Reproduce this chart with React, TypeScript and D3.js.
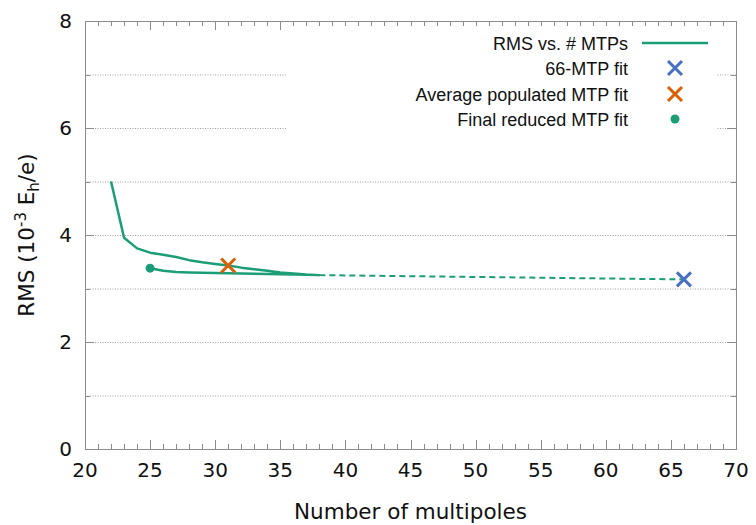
import React, { useRef, useEffect } from "react";
import * as d3 from "d3";

// RMS vs. number of multipoles, solid path in drawing order
const pathX = [22, 23, 24, 25, 26, 27, 28, 29, 30, 31, 32, 33, 34, 35, 36, 37, 38, 36, 34, 32, 30, 28, 27, 26, 25];
const pathY = [5.0, 3.95, 3.75, 3.67, 3.63, 3.59, 3.53, 3.49, 3.46, 3.43, 3.39, 3.36, 3.33, 3.3, 3.28, 3.26, 3.25, 3.26, 3.27, 3.28, 3.29, 3.3, 3.31, 3.33, 3.38];
// dashed gap between 38 and 66 multipoles
const gapX = [38, 66];
const gapY = [3.25, 3.17];

const fit66 = { x: 66, y: 3.17 };
const fitAvg = { x: 31, y: 3.43 };
const fitFinal = { x: 25, y: 3.38 };

const xTickValues = [20, 25, 30, 35, 40, 45, 50, 55, 60, 65, 70];
const yTickValues = [0, 2, 4, 6, 8];

const legendLabels = ["RMS vs. # MTPs", "66-MTP fit", "Average populated MTP fit", "Final reduced MTP fit"];

const GREEN = "#1b9e77";
const BLUE = "#4870c2";
const ORANGE = "#d95f02";
const AXIS = "#8c8c8c";

const W = 756;
const H = 525;

const App: React.FC = () => {
  const svgRef = useRef<SVGSVGElement | null>(null);

  useEffect(() => {
    const svg = d3.select(svgRef.current);
    svg.selectAll("*").remove();

    const margin = { top: 21, right: 20, bottom: 76, left: 85 };
    const x = d3.scaleLinear().domain([20, 70]).range([margin.left, W - margin.right]);
    const y = d3.scaleLinear().domain([0, 8]).range([H - margin.bottom, margin.top]);
    const [x0, x1] = x.range();
    const [y0, y1] = y.range();

    // grid
    svg.append("g")
      .selectAll("line")
      .data(d3.range(1, 8))
      .enter()
      .append("line")
      .attr("x1", x0)
      .attr("x2", x1)
      .attr("y1", (d) => y(d) + 0.5)
      .attr("y2", (d) => y(d) + 0.5)
      .attr("stroke", "#a0a0a0")
      .attr("stroke-width", 1)
      .attr("stroke-dasharray", "1,1.5");

    // ticks (inward, mirrored)
    const ticks = svg.append("g").attr("stroke", AXIS).attr("stroke-width", 1);
    d3.range(20, 71, 1).forEach((v) => {
      const len = v % 5 === 0 ? 9 : 5;
      const px = Math.round(x(v)) + 0.5;
      ticks.append("line").attr("x1", px).attr("x2", px).attr("y1", y0).attr("y2", y0 - len);
      ticks.append("line").attr("x1", px).attr("x2", px).attr("y1", y1).attr("y2", y1 + len);
    });
    d3.range(0, 9, 1).forEach((v) => {
      const len = v % 2 === 0 ? 9 : 5;
      const py = Math.round(y(v)) + 0.5;
      ticks.append("line").attr("x1", x0).attr("x2", x0 + len).attr("y1", py).attr("y2", py);
      ticks.append("line").attr("x1", x1).attr("x2", x1 - len).attr("y1", py).attr("y2", py);
    });

    // legend box (opaque)
    svg.append("rect")
      .attr("x", 286)
      .attr("y", 26)
      .attr("width", 430)
      .attr("height", 108)
      .attr("fill", "white");

    // border
    svg.append("rect")
      .attr("x", x0 + 0.5)
      .attr("y", y1 + 0.5)
      .attr("width", x1 - x0)
      .attr("height", y0 - y1)
      .attr("fill", "none")
      .attr("stroke", AXIS)
      .attr("stroke-width", 1);

    // tick labels
    const font = "'DejaVu Sans', sans-serif";
    svg.append("g")
      .selectAll("text")
      .data(xTickValues)
      .enter()
      .append("text")
      .attr("x", (d) => x(d))
      .attr("y", y0 + 28)
      .attr("text-anchor", "middle")
      .style("font-family", font)
      .style("font-size", "20px")
      .attr("fill", "#111")
      .text((d) => d);
    svg.append("g")
      .selectAll("text")
      .data(yTickValues)
      .enter()
      .append("text")
      .attr("x", x0 - 13)
      .attr("y", (d) => y(d) + 7)
      .attr("text-anchor", "end")
      .style("font-family", font)
      .style("font-size", "20px")
      .attr("fill", "#111")
      .text((d) => d);

    // axis titles
    svg.append("text")
      .attr("x", (x0 + x1) / 2)
      .attr("y", 519)
      .attr("text-anchor", "middle")
      .style("font-family", font)
      .style("font-size", "21.5px")
      .attr("fill", "#111")
      .text("Number of multipoles");

    const yt = svg.append("text")
      .attr("transform", `translate(34,${(y0 + y1) / 2}) rotate(-90)`)
      .attr("text-anchor", "middle")
      .style("font-family", font)
      .style("font-size", "21.5px")
      .attr("fill", "#111");
    yt.append("tspan").text("RMS (10");
    yt.append("tspan").attr("dy", -8).style("font-size", "15px").text("-3");
    yt.append("tspan").attr("dy", 8).text(" E");
    yt.append("tspan").attr("dy", 5).style("font-size", "15px").text("h");
    yt.append("tspan").attr("dy", -5).text("/e)");

    // data lines
    const line = d3.line<[number, number]>()
      .x((d) => x(d[0]))
      .y((d) => y(d[1]));

    svg.append("path")
      .datum(gapX.map((v, i) => [v, gapY[i]] as [number, number]))
      .attr("d", line)
      .attr("fill", "none")
      .attr("stroke", GREEN)
      .attr("stroke-width", 2)
      .attr("stroke-dasharray", "6,4");

    svg.append("path")
      .datum(pathX.map((v, i) => [v, pathY[i]] as [number, number]))
      .attr("d", line)
      .attr("fill", "none")
      .attr("stroke", GREEN)
      .attr("stroke-width", 2.5)
      .attr("stroke-linejoin", "round");

    const cross = (g: d3.Selection<SVGGElement, unknown, null, undefined>, cx: number, cy: number, color: string) => {
      const s = 7;
      g.append("path")
        .attr("d", `M${cx - s},${cy - s}L${cx + s},${cy + s}M${cx - s},${cy + s}L${cx + s},${cy - s}`)
        .attr("stroke", color)
        .attr("stroke-width", 3)
        .attr("fill", "none");
    };

    const marks = svg.append("g");
    cross(marks, x(fit66.x), y(fit66.y), BLUE);
    cross(marks, x(fitAvg.x), y(fitAvg.y), ORANGE);
    marks.append("circle")
      .attr("cx", x(fitFinal.x))
      .attr("cy", y(fitFinal.y))
      .attr("r", 4.5)
      .attr("fill", GREEN);

    // legend
    const rowY = [43, 68, 94, 119];
    const lg = svg.append("g");
    legendLabels.forEach((label, i) => {
      lg.append("text")
        .attr("x", 628)
        .attr("y", rowY[i] + 6.5)
        .attr("text-anchor", "end")
        .style("font-family", "'Liberation Sans', Arial, sans-serif")
        .style("font-size", "18px")
        .attr("fill", "#111")
        .text(label);
    });
    lg.append("line")
      .attr("x1", 642)
      .attr("x2", 708)
      .attr("y1", rowY[0])
      .attr("y2", rowY[0])
      .attr("stroke", GREEN)
      .attr("stroke-width", 2.5);
    cross(lg, 675, rowY[1], BLUE);
    cross(lg, 675, rowY[2], ORANGE);
    lg.append("circle").attr("cx", 675).attr("cy", rowY[3]).attr("r", 4.5).attr("fill", GREEN);
  }, []);

  return (
    <div style={{ position: "absolute", left: 0, top: 0, width: W, height: H, background: "white" }}>
      <svg ref={svgRef} width={W} height={H}></svg>
    </div>
  );
};

export default App;
